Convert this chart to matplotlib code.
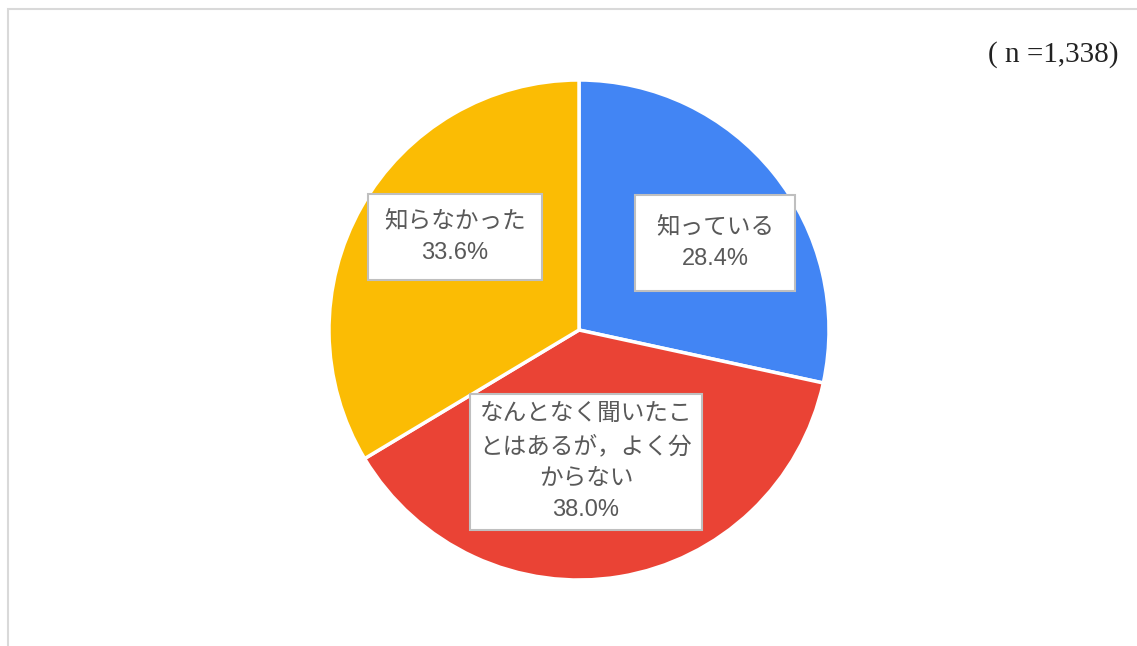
import matplotlib.pyplot as plt
from matplotlib.patches import Rectangle

# データ
labels = ['知っている', 'なんとなく聞いたことはあるが，よく分からない', '知らなかった']
label_lines = ['知っている', 'なんとなく聞いたこ\nとはあるが，よく分\nからない', '知らなかった']
values = [28.4, 38.0, 33.6]
colors = ['#4285F4', '#EA4335', '#FBBC04']
n_total = '1,338'

plt.rcParams['font.family'] = ['Liberation Sans', 'Noto Sans CJK JP', 'DejaVu Sans']

W, H = 1137, 646
fig = plt.figure(figsize=(W / 100, H / 100), dpi=100)
ax = fig.add_axes([0, 0, 1, 1])

# 枠線 (左と上のみ見える)
fig.patches.append(Rectangle((8 / W, -0.05), 1.2, (H - 9) / H + 0.05,
                             transform=fig.transFigure, fill=False,
                             edgecolor='#D9D9D9', linewidth=1.5))

cx, cy, r = 579, H - 330, 250
wedges, _ = ax.pie(values, colors=colors, startangle=90, counterclock=False,
                   center=(cx, cy), radius=r, frame=True,
                   wedgeprops=dict(edgecolor='white', linewidth=2.5))
ax.set_xlim(0, W)
ax.set_ylim(0, H)
ax.axis('off')

# ラベル位置 (ピクセル) と余白
label_pos = [(715, 243), (586, 462), (455, 237)]
label_pad = [0.9, 0.4, 0.7]
for (x, y), txt, v, p in zip(label_pos, label_lines, values, label_pad):
    ax.text(x, H - y, f'{txt}\n{v:.1f}%', ha='center', va='center',
            fontsize=17, color='#595959', linespacing=1.55,
            bbox=dict(boxstyle=f'square,pad={p}', facecolor='white',
                      edgecolor='#BFBFBF', linewidth=1.5))

ax.text(1118, H - 55, f'( n ={n_total})', ha='right', va='center',
        fontsize=21, family=['Liberation Serif', 'DejaVu Serif'], color='#222222')

fig.savefig('out.png', dpi=100)
